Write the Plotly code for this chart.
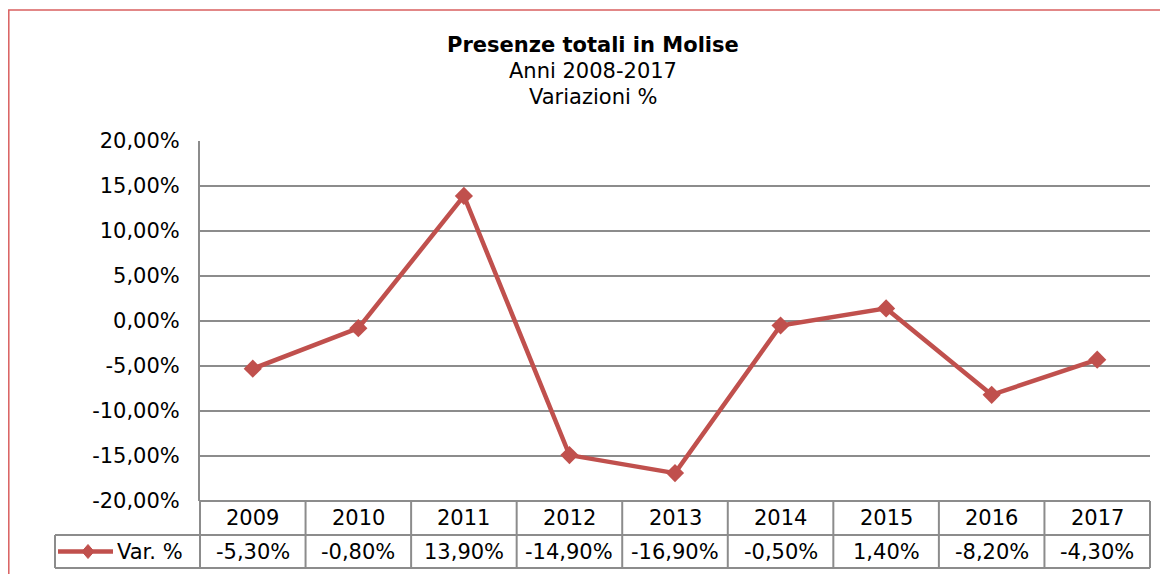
import plotly.graph_objects as go

anni = ["2009", "2010", "2011", "2012", "2013", "2014", "2015", "2016", "2017"]
var_pct = [-5.30, -0.80, 13.90, -14.90, -16.90, -0.50, 1.40, -8.20, -4.30]
serie = "Var. %"
tick_vals = [20, 15, 10, 5, 0, -5, -10, -15, -20]

FONT = "DejaVu Sans, Verdana, sans-serif"
RED = "#C0504D"
GRID = "#8c8c8c"
FS = 21

def fmt(v):
    return f"{v:.2f}%".replace(".", ",")

fig = go.Figure()
fig.add_trace(go.Scatter(
    x=anni, y=var_pct, mode="lines+markers", name=serie,
    line=dict(color=RED, width=4.5),
    marker=dict(symbol="diamond", size=14, color=RED),
    showlegend=False,
))

# page has an 8px body margin, so figure coords = page coords - 8
W, H = 1160, 566
L, R, T, B = 192, 1142, 133, 493
pw, ph = R - L, B - T
px_ = lambda x: (x - L) / pw
py_ = lambda y: (B - y) / ph

def line(x0, y0, x1, y1, color=GRID, width=2):
    return dict(type="line", xref="paper", yref="paper",
                x0=px_(x0), x1=px_(x1), y0=py_(y0), y1=py_(y1),
                line=dict(color=color, width=width))

shapes = []
# outer red frame (right and bottom edges fall outside the picture)
shapes.append(dict(type="rect", xref="paper", yref="paper",
                   x0=px_(0.8), x1=px_(1300), y0=py_(700), y1=py_(2),
                   line=dict(color="#d96060", width=1.5), layer="below"))
# data table grid
row1, row2, row3 = 493, 527, 560
n = len(anni)
for i in range(n + 1):
    xx = L + i * pw / n
    shapes.append(line(xx, row1, xx, row3))
shapes.append(line(L, row1, R, row1))
shapes.append(line(47, row2, R, row2))
shapes.append(line(47, row3, R, row3))
shapes.append(line(47, row2, 47, row3))
# legend key
ky = (row2 + row3) / 2
shapes.append(line(50, ky, 105, ky, color=RED, width=4.5))
dx, dy = 6 / pw, 7 / ph
cx, cy = px_(80), py_(ky)
shapes.append(dict(type="path", xref="paper", yref="paper",
                   path=f"M {cx-dx} {cy} L {cx} {cy+dy} L {cx+dx} {cy} L {cx} {cy-dy} Z",
                   fillcolor=RED, line=dict(color=RED, width=1)))

def ann(text, x, y, size=FS, xanchor="center"):
    return dict(x=px_(x), y=py_(y), xref="paper", yref="paper", text=text,
                xanchor=xanchor, yanchor="middle", showarrow=False,
                font=dict(size=size, color="black", family=FONT))

annotations = []
for i, (a, v) in enumerate(zip(anni, var_pct)):
    xc = L + (i + 0.5) * pw / n
    annotations.append(ann(a, xc, (row1 + row2) / 2))
    annotations.append(ann(fmt(v), xc, ky))
annotations.append(ann(serie, 107, ky, xanchor="left"))
# titles
annotations.append(ann("<b>Presenze totali in Molise</b>", 585, 37, size=21))
annotations.append(ann("Anni 2008-2017", 585, 63, size=21))
annotations.append(ann("Variazioni %", 585, 89, size=21))

fig.update_layout(
    width=W, height=H,
    margin=dict(l=L, r=W - R, t=T, b=H - B),
    paper_bgcolor="white", plot_bgcolor="white",
    font=dict(family=FONT, color="black", size=FS),
    shapes=shapes, annotations=annotations,
    xaxis=dict(type="category", range=[-0.5, n - 0.5], showticklabels=False,
               showgrid=False, zeroline=False, showline=False, fixedrange=True),
    yaxis=dict(range=[-20, 20], tickvals=tick_vals,
               ticktext=[fmt(t) for t in tick_vals],
               showgrid=True, gridcolor=GRID, gridwidth=1.5,
               zeroline=False, showline=True, linecolor=GRID, linewidth=2,
               ticks="", ticklabelstandoff=14,
               tickfont=dict(size=FS, color="black", family=FONT)),
)

fig.write_html("out.html")
